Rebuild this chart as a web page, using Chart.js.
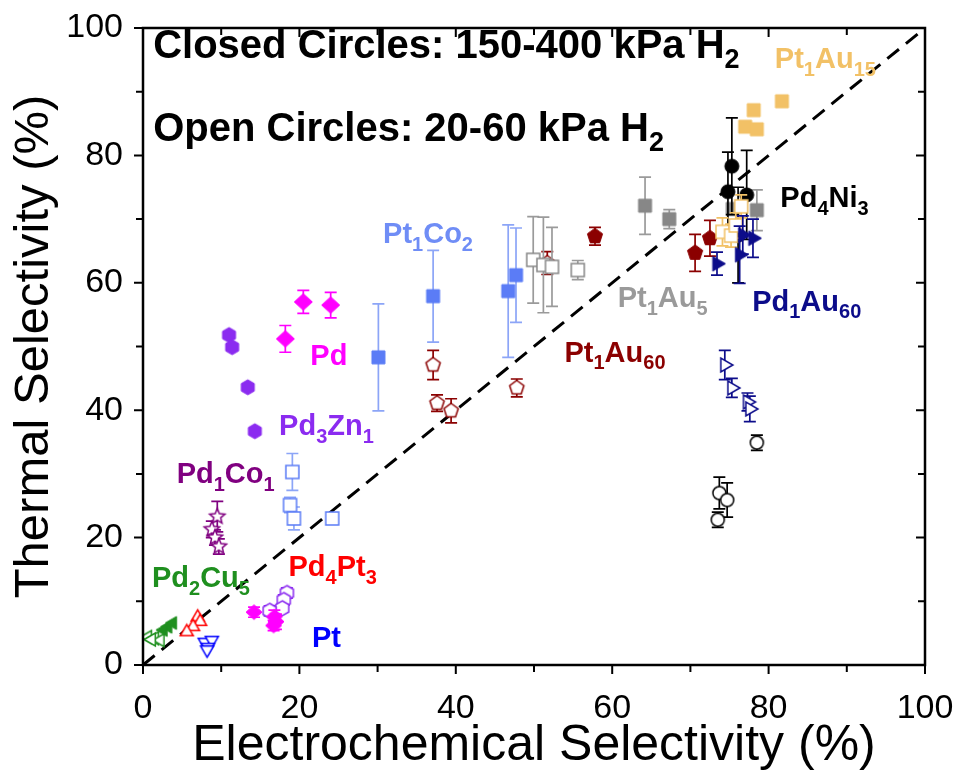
<!DOCTYPE html>
<html>
<head>
<meta charset="utf-8">
<script src="https://cdn.jsdelivr.net/npm/chart.js@4.4.1/dist/chart.umd.min.js"></script>
<style>
  html, body { margin: 0; padding: 0; background: #ffffff; }
  #wrap { width: 958px; height: 779px; }
</style>
</head>
<body>
<div id="wrap"><canvas id="chart" width="958" height="779"></canvas></div>
<script>
// Each entry: [electrochemical selectivity %, thermal selectivity %, error bar half-height]
const pt1au15Closed = [[81.7, 88.5, 0], [78.1, 87.1, 0], [77.0, 84.5, 0], [78.5, 84.1, 0]];
const pt1au15Open   = [[74.1, 68.0, 2.2], [75.2, 67.4, 1.8], [75.8, 69.0, 2.0], [76.5, 72.0, 1.8]];
const pd4ni3Closed  = [[76.1, 67.5, 7.5], [75.3, 78.3, 7.6], [74.8, 74.3, 6.2], [77.2, 73.8, 7.0]];
const pd4ni3Open    = [[78.5, 34.9, 1.2], [73.7, 27.0, 2.5], [74.7, 25.9, 2.7], [73.5, 22.8, 1.2]];
const pt1au5Closed  = [[64.2, 72.1, 4.5], [67.3, 70.0, 1.5], [75.4, 71.6, 0], [78.5, 71.4, 3.2]];
const pt1au5Open    = [[49.9, 63.6, 6.8], [51.2, 62.8, 7.5], [52.3, 62.5, 6.2], [55.6, 62.0, 1.5]];
const pd1au60Closed = [[73.4, 63.0, 1.8], [76.3, 64.4, 4.5], [76.7, 67.5, 3.0], [78.0, 67.0, 3.0]];
const pd1au60Open   = [[74.4, 47.1, 2.3], [75.3, 43.5, 1.5], [77.3, 41.3, 1.4], [77.6, 40.2, 2.0]];
const pt1au60Closed = [[57.8, 67.3, 1.4], [70.6, 64.7, 2.9], [72.5, 67.0, 2.8]];
const pt1au60Open   = [[37.1, 47.1, 2.3], [37.6, 41.1, 1.3], [39.4, 39.9, 1.9], [47.8, 43.5, 1.4], [51.7, 63.1, 1.8]];
const pt1co2Closed  = [[30.1, 48.3, 8.4], [37.1, 57.9, 7.2], [46.7, 58.7, 10.4], [47.7, 61.2, 7.4]];
const pt1co2Open    = [[19.1, 30.3, 2.9], [18.8, 25.1, 1.2], [19.3, 23.0, 1.8], [24.2, 23.0, 0.8]];
const pdClosed      = [[18.2, 51.2, 2.1], [20.5, 57.0, 1.8], [24.0, 56.5, 2.0]];
const pdOpen        = [[14.2, 8.3, 0.8], [16.8, 7.6, 1.0], [17.0, 6.8, 1.2], [16.7, 6.2, 0.8]];
const pd3zn1Closed  = [[11.0, 51.8, 0], [11.4, 49.9, 0], [13.4, 43.6, 0], [14.3, 36.7, 0]];
const pd3zn1Open    = [[18.4, 11.3, 0.8], [18.0, 10.2, 0.8], [17.8, 8.9, 0.6], [16.2, 8.5, 0.8]];
const pd1co1Open    = [[9.5, 23.3, 2.4], [8.8, 21.3, 1.3], [9.2, 20.0, 1.2], [9.7, 18.6, 1.2]];
const pd2cu5Closed  = [[3.2, 6.0, 0], [3.8, 6.6, 0], [2.6, 5.5, 0]];
const pd2cu5Open    = [[0.6, 4.4, 0], [1.5, 4.2, 0], [2.2, 3.9, 0], [1.1, 4.0, 0]];
const pd4pt3Open    = [[7.0, 7.5, 0], [7.3, 6.8, 0], [6.4, 6.0, 0], [5.6, 5.2, 0]];
const ptOpen        = [[7.9, 3.6, 0], [8.8, 3.9, 0], [8.3, 2.8, 0], [8.2, 2.4, 0]];

const parityLine = [[0, 0], [100, 100]];
const axisTicks = [0, 20, 40, 60, 80, 100];

// Colours of each catalyst family
const C = {
  pt1au15: '#F2C166', pd4ni3: '#000000', pt1au5: '#878787', pt1au5Text: '#9A9A9A',
  pd1au60: '#0C0C8A', pt1au60: '#8B0000', pt1co2: '#5B7CF6', pt1co2Bar: '#8CA5F7',
  pd: '#FF00FF', pd3zn1: '#8B2BF0', pd1co1: '#800080', pd2cu5: '#1F8F1F',
  pd4pt3: '#FF0000', pt: '#0000FF'
};

// Marker sprites drawn on small canvases
function sprite(kind, r, fill, stroke, lw) {
  const pad = Math.ceil(lw) + 1;
  const size = Math.ceil(2 * r + 2 * pad);
  const c = document.createElement('canvas');
  c.width = size; c.height = size;
  const g = c.getContext('2d');
  const cx = size / 2, cy = size / 2;
  g.beginPath();
  const poly = (n, start, radii) => {
    for (let k = 0; k < n; k++) {
      const a = start + k * 2 * Math.PI / n;
      const rr = radii ? radii[k % radii.length] : r;
      const px = cx + rr * Math.cos(a), py = cy + rr * Math.sin(a);
      k ? g.lineTo(px, py) : g.moveTo(px, py);
    }
    g.closePath();
  };
  switch (kind) {
    case 'square': g.rect(cx - r, cy - r, 2 * r, 2 * r); break;
    case 'circle': g.arc(cx, cy, r, 0, 2 * Math.PI); break;
    case 'diamond':
      g.moveTo(cx, cy - r * 0.92); g.lineTo(cx + r, cy); g.lineTo(cx, cy + r * 0.92); g.lineTo(cx - r, cy); g.closePath(); break;
    case 'pentagon': poly(5, -Math.PI / 2); break;
    case 'hexagon': poly(6, -Math.PI / 2); break;
    case 'star': poly(10, -Math.PI / 2, [r, r * 0.45]); break;
    case 'triUp': poly(3, -Math.PI / 2); break;
    case 'triDown': poly(3, Math.PI / 2); break;
    case 'triRight': poly(3, 0); break;
    case 'triLeft': poly(3, Math.PI); break;
  }
  g.fillStyle = fill; g.fill();
  g.lineWidth = lw; g.strokeStyle = stroke; g.stroke();
  return c;
}
const filled = (kind, r, col) => sprite(kind, r, col, col, 1);
const open = (kind, r, col) => sprite(kind, r, '#ffffff', col, 1.5);

const toPoints = arr => arr.map(([x, y, err]) => ({ x, y, err }));

function series(name, arr, marker, color, barColor) {
  return {
    label: name, data: toPoints(arr), pointStyle: marker, pointRadius: 7,
    pointHoverRadius: 7, borderColor: color, backgroundColor: color,
    barColor: barColor || color, showLine: false, order: 1
  };
}

// Later entries are drawn underneath earlier ones
const datasets = [
  series('Pd1Au60 open', pd1au60Open, open('triRight', 8, C.pd1au60), C.pd1au60),
  series('Pd4Ni3 open', pd4ni3Open, open('circle', 6.5, C.pd4ni3), C.pd4ni3),
  series('Pd1Au60 closed', pd1au60Closed, filled('triRight', 8.5, C.pd1au60), C.pd1au60),
  series('Pt1Au15 open', pt1au15Open, open('square', 6.5, C.pt1au15), C.pt1au15),
  series('Pd4Ni3 closed', pd4ni3Closed, filled('circle', 7, C.pd4ni3), C.pd4ni3),
  series('Pt1Au5 closed', pt1au5Closed, filled('square', 6.5, C.pt1au5), C.pt1au5, '#9A9A9A'),
  series('Pt1Au15 closed', pt1au15Closed, filled('square', 6.5, C.pt1au15), C.pt1au15),
  series('Pt1Au60 closed', pt1au60Closed, filled('pentagon', 8, C.pt1au60), C.pt1au60),
  series('Pt1Au5 open', pt1au5Open, open('square', 6.5, C.pt1au5), C.pt1au5, '#9A9A9A'),
  series('Pt1Au60 open', pt1au60Open, open('pentagon', 7.5, C.pt1au60), C.pt1au60),
  series('Pt1Co2 closed', pt1co2Closed, filled('square', 6.5, C.pt1co2), C.pt1co2, C.pt1co2Bar),
  series('Pt1Co2 open', pt1co2Open, open('square', 6.5, C.pt1co2), C.pt1co2, C.pt1co2Bar),
  series('Pd closed', pdClosed, filled('diamond', 9, C.pd), C.pd),
  series('Pd3Zn1 closed', pd3zn1Closed, filled('hexagon', 7.5, C.pd3zn1), C.pd3zn1),
  series('Pd1Co1 open', pd1co1Open, open('star', 8, C.pd1co1), C.pd1co1),
  series('Pd open', pdOpen, filled('diamond', 8, C.pd), C.pd),
  series('Pd3Zn1 open', pd3zn1Open, open('hexagon', 7.5, C.pd3zn1), C.pd3zn1),
  series('Pd4Pt3 open', pd4pt3Open, open('triUp', 7.5, C.pd4pt3), C.pd4pt3),
  series('Pt open', ptOpen, open('triDown', 7.5, C.pt), C.pt),
  series('Pd2Cu5 closed', pd2cu5Closed, filled('triLeft', 7.5, C.pd2cu5), C.pd2cu5),
  series('Pd2Cu5 open', pd2cu5Open, open('triLeft', 7.5, C.pd2cu5), C.pd2cu5),
  {
    type: 'line', label: 'parity', data: parityLine.map(([x, y]) => ({ x, y })),
    borderColor: '#000000', borderWidth: 3, borderDash: [15, 9], pointRadius: 0,
    showLine: true, fill: false, order: 100
  }
];

// Annotation text; "_{..}" marks a subscript. Positions in data units.
const annotations = [
  { text: 'Closed Circles: 150-400 kPa H_{2}', x: 1.3, y: 95.3, color: '#000000', size: 40 },
  { text: 'Open Circles: 20-60 kPa H_{2}', x: 1.3, y: 82.3, color: '#000000', size: 40 },
  { text: 'Pt_{1}Au_{15}', x: 80.8, y: 93.7, color: C.pt1au15, size: 29 },
  { text: 'Pd_{4}Ni_{3}', x: 81.5, y: 71.9, color: '#000000', size: 29 },
  { text: 'Pt_{1}Co_{2}', x: 30.7, y: 66.2, color: '#6F8DF6', size: 29 },
  { text: 'Pt_{1}Au_{5}', x: 60.7, y: 56.2, color: C.pt1au5Text, size: 29 },
  { text: 'Pd_{1}Au_{60}', x: 77.9, y: 55.6, color: C.pd1au60, size: 29 },
  { text: 'Pd', x: 21.4, y: 47.1, color: C.pd, size: 29 },
  { text: 'Pt_{1}Au_{60}', x: 53.9, y: 47.6, color: C.pt1au60, size: 29 },
  { text: 'Pd_{3}Zn_{1}', x: 17.4, y: 36.1, color: C.pd3zn1, size: 29 },
  { text: 'Pd_{1}Co_{1}', x: 4.3, y: 28.5, color: C.pd1co1, size: 29 },
  { text: 'Pd_{2}Cu_{5}', x: 1.15, y: 12.2, color: C.pd2cu5, size: 29 },
  { text: 'Pd_{4}Pt_{3}', x: 18.6, y: 13.9, color: C.pd4pt3, size: 29 },
  { text: 'Pt', x: 21.6, y: 2.9, color: C.pt, size: 29 }
];

const FONT = '"Liberation Sans", Arial, Helvetica, sans-serif';

function drawRich(ctx, text, x, y, size, color) {
  const parts = text.split(/(_\{[^}]*\})/).filter(s => s.length);
  ctx.fillStyle = color;
  ctx.textBaseline = 'alphabetic';
  ctx.textAlign = 'left';
  let cx = x;
  for (const p of parts) {
    const sub = p.startsWith('_{');
    const t = sub ? p.slice(2, -1) : p;
    const fs = sub ? Math.round(size * 0.68) : size;
    ctx.font = `bold ${fs}px ${FONT}`;
    ctx.fillText(t, cx, sub ? y + size * 0.26 : y);
    cx += ctx.measureText(t).width;
  }
}

const errorBars = {
  id: 'errorBars',
  beforeDatasetDraw(chart, args) {
    const ds = chart.data.datasets[args.index];
    if (!ds.barColor) return;
    const ys = chart.scales.y, ctx = chart.ctx;
    ctx.save();
    ctx.strokeStyle = ds.barColor;
    ctx.lineWidth = 1.7;
    args.meta.data.forEach((el, i) => {
      const d = ds.data[i];
      if (!d.err) return;
      const top = ys.getPixelForValue(d.y + d.err);
      const bot = ys.getPixelForValue(d.y - d.err);
      const half = 6;
      ctx.beginPath();
      ctx.moveTo(el.x, top); ctx.lineTo(el.x, bot);
      ctx.moveTo(el.x - half, top); ctx.lineTo(el.x + half, top);
      ctx.moveTo(el.x - half, bot); ctx.lineTo(el.x + half, bot);
      ctx.stroke();
    });
    ctx.restore();
  }
};

const frameAndText = {
  id: 'frameAndText',
  afterDatasetsDraw(chart) {
    const { ctx, chartArea: a, scales: { x, y } } = chart;
    ctx.save();
    // axis frame
    ctx.strokeStyle = '#000000';
    ctx.lineWidth = 2.5;
    ctx.strokeRect(a.left, a.top, a.right - a.left, a.bottom - a.top);
    // tick marks every 10 units: outward on bottom/left, inward on top/right
    ctx.lineWidth = 2;
    ctx.beginPath();
    for (let v = 0; v <= 100; v += 10) {
      const major = v % 20 === 0;
      const len = major ? 9 : 7;
      const px = x.getPixelForValue(v);
      const py = y.getPixelForValue(v);
      ctx.moveTo(px, a.bottom); ctx.lineTo(px, a.bottom + len);
      ctx.moveTo(px, a.top); ctx.lineTo(px, a.top + len);
      ctx.moveTo(a.left, py); ctx.lineTo(a.left - len, py);
      ctx.moveTo(a.right, py); ctx.lineTo(a.right - len, py);
    }
    ctx.stroke();
    // annotations
    for (const t of annotations) {
      drawRich(ctx, t.text, x.getPixelForValue(t.x), y.getPixelForValue(t.y), t.size, t.color);
    }
    ctx.restore();
  }
};

// Fixed axis box sizes so the plot frame lands in the same place every time
function fitBox(prop, value) {
  return s => {
    s[prop] = value;
    s.paddingTop = 0; s.paddingBottom = 0; s.paddingLeft = 0; s.paddingRight = 0;
  };
}

new Chart(document.getElementById('chart'), {
  type: 'scatter',
  data: { datasets },
  options: {
    responsive: false,
    animation: false,
    devicePixelRatio: 1,
    layout: { padding: { top: 28, right: 33, left: 0, bottom: 0 } },
    plugins: { legend: { display: false }, tooltip: { enabled: false } },
    events: [],
    scales: {
      x: {
        type: 'linear', min: 0, max: 100,
        afterBuildTicks: s => { s.ticks = axisTicks.map(v => ({ value: v })); },
        afterFit: fitBox('height', 114),
        grid: { display: false, drawTicks: false },
        border: { display: false },
        ticks: { color: '#000000', font: { family: FONT, size: 34 }, padding: 23, autoSkip: false, maxRotation: 0 },
        title: { display: true, text: 'Electrochemical Selectivity (%)', color: '#000000',
                 font: { family: FONT, size: 50 }, padding: { top: 0, bottom: 3 } }
      },
      y: {
        type: 'linear', min: 0, max: 100,
        afterBuildTicks: s => { s.ticks = axisTicks.map(v => ({ value: v })); },
        afterFit: fitBox('width', 143),
        grid: { display: false, drawTicks: false },
        border: { display: false },
        ticks: { color: '#000000', font: { family: FONT, size: 34 }, padding: 20, autoSkip: false },
        title: { display: true, text: 'Thermal Selectivity (%)', color: '#000000',
                 font: { family: FONT, size: 49 }, padding: { top: 5, bottom: 0 } }
      }
    }
  },
  plugins: [errorBars, frameAndText]
});
</script>
</body>
</html>
